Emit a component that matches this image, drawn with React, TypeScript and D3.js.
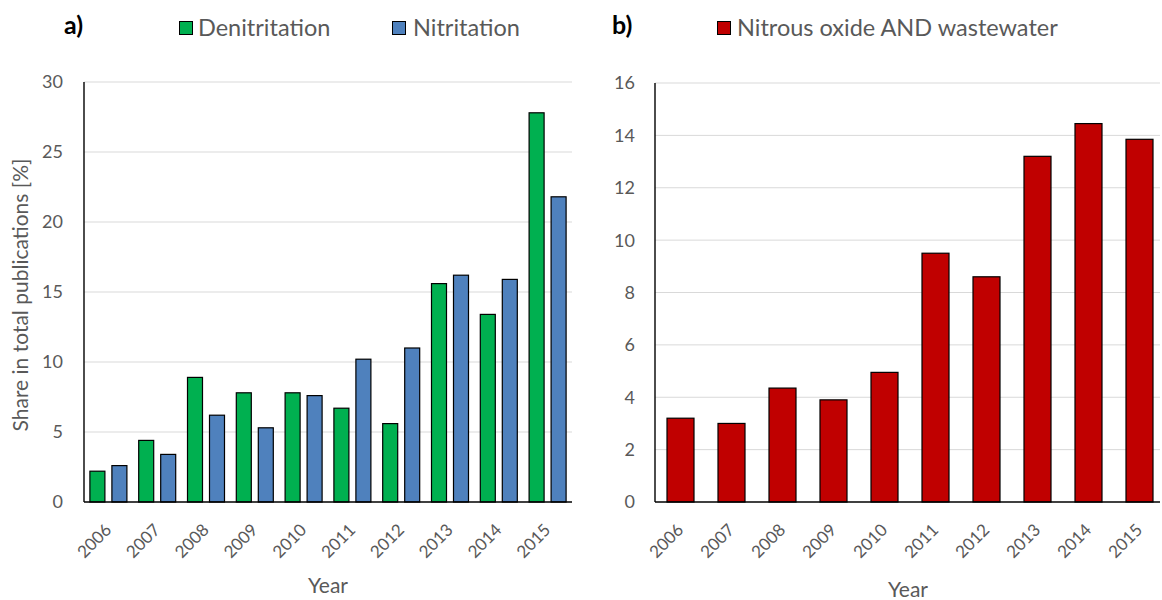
import React from "react";
import * as d3 from "d3";

const years = ["2006", "2007", "2008", "2009", "2010", "2011", "2012", "2013", "2014", "2015"];
const denitritation = [2.2, 4.4, 8.9, 7.8, 7.8, 6.7, 5.6, 15.6, 13.4, 27.8];
const nitritation = [2.6, 3.4, 6.2, 5.3, 7.6, 10.2, 11.0, 16.2, 15.9, 21.8];
const nitrousOxide = [3.2, 3.0, 4.35, 3.9, 4.95, 9.5, 8.6, 13.2, 14.45, 13.85];
const leftTicks = [0, 5, 10, 15, 20, 25, 30];
const rightTicks = [0, 2, 4, 6, 8, 10, 12, 14, 16];

const GREEN = "#00B050";
const BLUE = "#4F81BD";
const RED = "#C00000";
const TXT = "#595959";
const FONT = "Lato, 'Open Sans', sans-serif";

export default function App() {
  const y0 = 502;
  const yTop = 82;

  // Left chart
  const lx0 = 84, lx1 = 572;
  const xL = d3.scaleBand<string>().domain(years).range([lx0, lx1]);
  const yL = d3.scaleLinear().domain([0, 30]).range([y0, yTop]);
  const barWL = 15;
  const gapL = 7;

  // Right chart
  const rx0 = 655, rx1 = 1165;
  const xR = d3.scaleBand<string>().domain(years).range([rx0, rx1]);
  const yR = d3.scaleLinear().domain([0, 16]).range([y0, 83]);
  const barWR = 27;

  const tickLabel = (x: number, label: string, key: string) => (
    <text
      key={key}
      transform={`translate(${x},${531}) rotate(-45)`}
      textAnchor="end"
      fontSize={17}
      fill={TXT}
      fontFamily={FONT}
    >
      {label}
    </text>
  );

  return (
    <svg width={1162} height={600} style={{ position: "absolute", left: 0, top: 0, background: "#fff" }}>
      <rect x={0} y={0} width={1162} height={600} fill="#fff" />
      {/* ---------- Left panel ---------- */}
      <text x={64} y={34} fontSize={25} fontWeight="bold" fontFamily={FONT} fill="#000">a)</text>
      <rect x={179.5} y={21.5} width={13} height={13} fill={GREEN} stroke="#000" strokeWidth={1} />
      <text x={198} y={36} fontSize={23.5} fontFamily={FONT} fill={TXT}>Denitritation</text>
      <rect x={392.5} y={21.5} width={13} height={13} fill={BLUE} stroke="#000" strokeWidth={1} />
      <text x={413} y={36} fontSize={23.5} fontFamily={FONT} fill={TXT}>Nitritation</text>

      {leftTicks.map((t) => (
        <g key={"lt" + t}>
          {t > 0 && <line x1={lx0} x2={lx1} y1={yL(t)} y2={yL(t)} stroke="#d9d9d9" strokeWidth={1} />}
          <text x={63} y={yL(t)} dy="0.36em" textAnchor="end" fontSize={18} fill={TXT} fontFamily={FONT}>
            {t}
          </text>
        </g>
      ))}
      {years.map((yr, i) => {
        const bx = xL(yr)! + (xL.bandwidth() - 2 * barWL - gapL) / 2;
        return (
          <g key={"lb" + yr}>
            <rect x={bx} y={yL(denitritation[i])} width={barWL} height={y0 - yL(denitritation[i])} fill={GREEN} stroke="#000" strokeWidth={1.2} />
            <rect x={bx + barWL + gapL} y={yL(nitritation[i])} width={barWL} height={y0 - yL(nitritation[i])} fill={BLUE} stroke="#000" strokeWidth={1.2} />
          </g>
        );
      })}
      <line x1={lx0} x2={lx0} y1={yTop} y2={y0} stroke="#000" strokeWidth={1.4} />
      <line x1={lx0} x2={lx1} y1={y0} y2={y0} stroke="#000" strokeWidth={1.4} />
      {years.map((yr) => tickLabel(xL(yr)! + xL.bandwidth() / 2 + 4, yr, "lx" + yr))}
      <text x={328} y={593} textAnchor="middle" fontSize={21} fill={TXT} fontFamily={FONT}>Year</text>
      <text
        transform={`translate(28,295) rotate(-90)`}
        textAnchor="middle"
        fontSize={21}
        fill={TXT}
        fontFamily={FONT}
      >
        Share in total publications [%]
      </text>

      {/* ---------- Right panel ---------- */}
      <text x={612} y={34} fontSize={25} fontWeight="bold" fontFamily={FONT} fill="#000">b)</text>
      <rect x={717.5} y={21.5} width={13} height={13} fill={RED} stroke="#000" strokeWidth={1} />
      <text x={737} y={36} fontSize={23.5} fontFamily={FONT} fill={TXT}>Nitrous oxide AND wastewater</text>

      {rightTicks.map((t) => (
        <g key={"rt" + t}>
          {t > 0 && <line x1={rx0} x2={1160} y1={yR(t)} y2={yR(t)} stroke="#d9d9d9" strokeWidth={1} />}
          <text x={635} y={yR(t)} dy="0.36em" textAnchor="end" fontSize={18} fill={TXT} fontFamily={FONT}>
            {t}
          </text>
        </g>
      ))}
      {years.map((yr, i) => {
        const bx = xR(yr)! + (xR.bandwidth() - barWR) / 2;
        return (
          <rect key={"rb" + yr} x={bx} y={yR(nitrousOxide[i])} width={barWR} height={y0 - yR(nitrousOxide[i])} fill={RED} stroke="#000" strokeWidth={1.2} />
        );
      })}
      <line x1={rx0} x2={rx0} y1={83} y2={y0} stroke="#000" strokeWidth={1.4} />
      <line x1={rx0} x2={1160} y1={y0} y2={y0} stroke="#000" strokeWidth={1.4} />
      {years.map((yr) => tickLabel(xR(yr)! + xR.bandwidth() / 2 + 4, yr, "rx" + yr))}
      <text x={908} y={597} textAnchor="middle" fontSize={21} fill={TXT} fontFamily={FONT}>Year</text>
    </svg>
  );
}
